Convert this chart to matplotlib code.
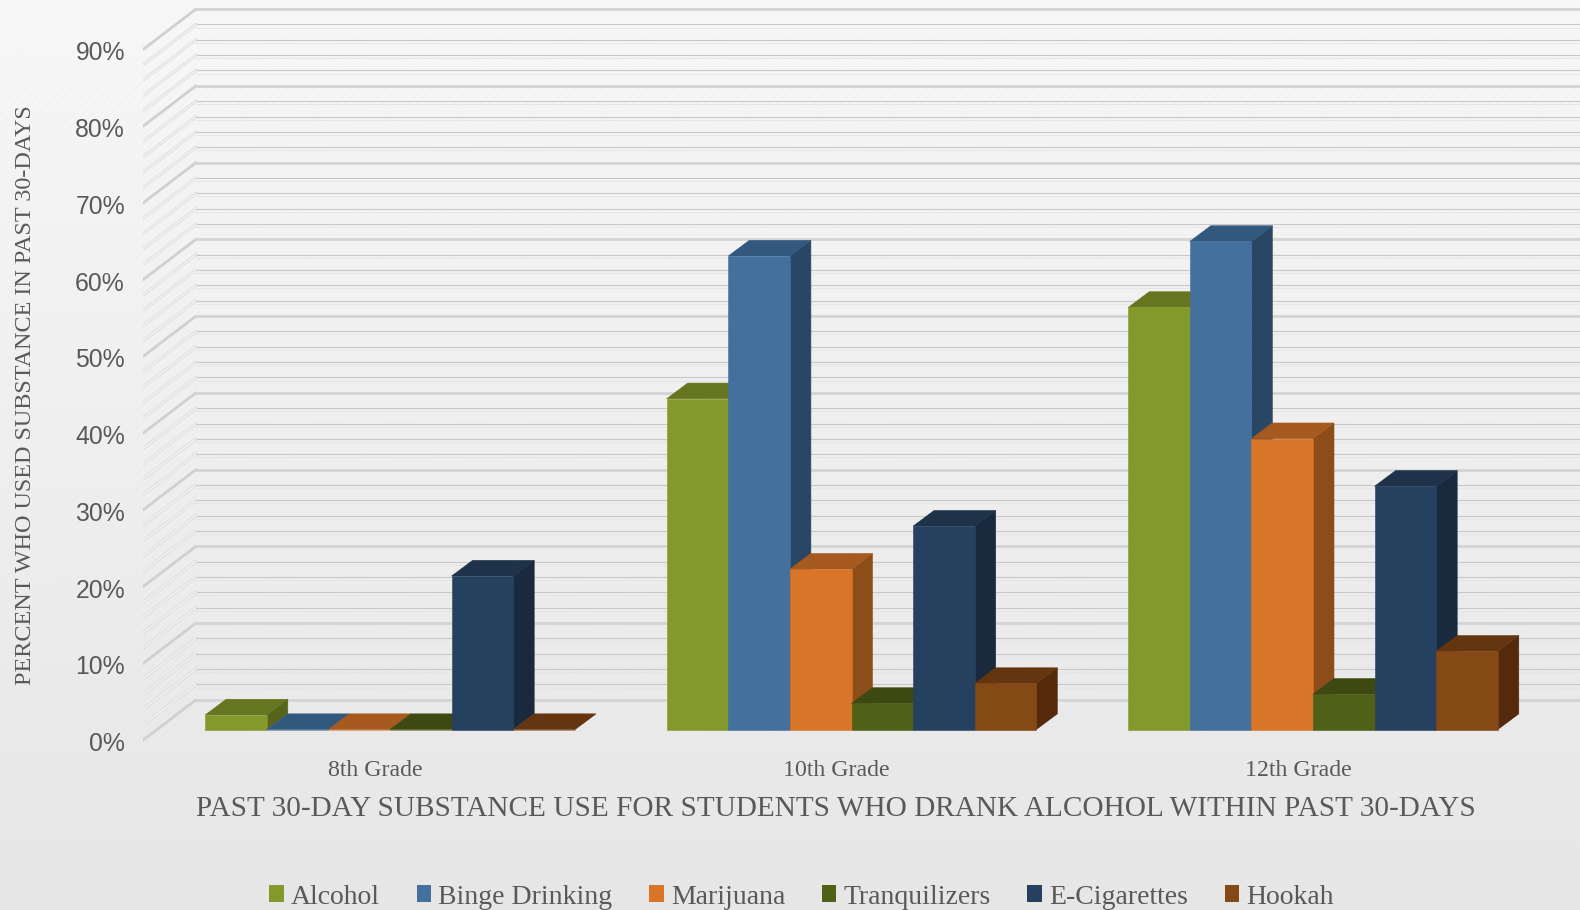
import numpy as np
import matplotlib
matplotlib.use("Agg")
import matplotlib.pyplot as plt
from matplotlib.patches import Polygon, Patch

grades = ["8th Grade", "10th Grade", "12th Grade"]
alcohol = [1.9, 43.1, 55.0]
binge = [0.0, 61.7, 63.6]
marijuana = [0.0, 20.9, 37.9]
tranquilizers = [0.0, 3.4, 4.6]
e_cigarettes = [20.0, 26.5, 31.7]
hookah = [0.0, 6.0, 10.2]
series_names = ["Alcohol", "Binge Drinking", "Marijuana", "Tranquilizers", "E-Cigarettes", "Hookah"]
series_values = [alcohol, binge, marijuana, tranquilizers, e_cigarettes, hookah]
front_colors = ["#84992B", "#44709E", "#D97528", "#4F6017", "#26415F", "#854915"]
top_colors = ["#66751F", "#33587E", "#A65A20", "#3D4910", "#1E3349", "#653510"]
side_colors = ["#56651B", "#294765", "#8D4D19", "#344010", "#192A3E", "#54290C"]
y_ticks = list(range(0, 100, 10))
minor_ticks = [v for v in range(0, 92, 2) if v % 10]

W, H = 1580, 910
PX_Y = 7.69            # pixels per percentage point
PX_X = 461.5           # pixels per category
LEFT, BOTTOM = 143, 741.7
CENTER0 = 390

fig = plt.figure(figsize=(W / 100, H / 100), dpi=100)

# Background: soft vertical gradient with a fine diagonal weave
bg = fig.add_axes([0, 0, 1, 1], zorder=0)
bg.axis("off")
yy, xx = np.mgrid[0:H, 0:W]
shade = 0.966 - 0.066 * (yy / H)
shade = shade + 0.003 * np.sin((xx + yy) * 2 * np.pi / 9)
bg.imshow(shade, cmap="gray", vmin=0, vmax=1, aspect="auto", interpolation="bilinear")

ax = fig.add_axes([LEFT / W, (H - BOTTOM) / H, (W - LEFT) / W, BOTTOM / H], zorder=1)
ax.patch.set_visible(False)
ax.set_xlim((LEFT - CENTER0) / PX_X, (W - CENTER0) / PX_X)
ax.set_ylim(0, BOTTOM / PX_Y)
for s in ax.spines.values():
    s.set_visible(False)

wall_dx = 53 / PX_X
wall_dy = 40.5 / PX_Y
x0 = ax.get_xlim()[0]
x1 = ax.get_xlim()[1]

# Side wall and back wall gridlines
for v in minor_ticks:
    ax.plot([x0, x0 + wall_dx], [v, v + wall_dy], color="#d6d6d6", lw=2.0, solid_capstyle="round", zorder=1)
    ax.plot([x0, x0 + wall_dx], [v, v + wall_dy], color="#f6f6f6", lw=1.0, solid_capstyle="round", zorder=1.1)
    ax.plot([x0 + wall_dx, x1], [v + wall_dy] * 2, color="#c8c8c8", lw=0.8, zorder=1)
    ax.plot([x0 + wall_dx, x1], [v + wall_dy - 0.4] * 2, color="#e6e6e6", lw=0.8, zorder=1)
for v in y_ticks:
    ax.plot([x0, x0 + wall_dx], [v, v + wall_dy], color="#d0d0d0", lw=2.0, solid_capstyle="round", zorder=1)
    ax.plot([x0 + wall_dx, x1], [v + wall_dy] * 2, color="#d4d4d4", lw=2.0, zorder=1)

# 3-D style columns
bar_w = 61.6 / PX_X
depth_x = 21 / PX_X
depth_y = 15.7 / PX_Y
base = (BOTTOM - 731.0) / PX_Y
n = len(series_names)
z = 2.0
for g in range(len(grades)):
    for i in range(n):
        h = series_values[i][g]
        left = g + (i - n / 2) * bar_w
        right = left + bar_w
        b, t = base, base + h
        kw = dict(lw=0.4, joinstyle="miter", zorder=z)
        ax.add_patch(Polygon([(right, b), (right + depth_x, b + depth_y),
                              (right + depth_x, t + depth_y), (right, t)],
                             fc=side_colors[i], ec=side_colors[i], **kw))
        ax.add_patch(Polygon([(left, t), (right, t), (right + depth_x, t + depth_y),
                              (left + depth_x, t + depth_y)],
                             fc=top_colors[i], ec=top_colors[i], **kw))
        ax.add_patch(Polygon([(left, b), (right, b), (right, t), (left, t)],
                             fc=front_colors[i], ec=front_colors[i], **kw))
        z += 0.01

# Axes text
ax.set_yticks([v - 1.5 / PX_Y for v in y_ticks])
ax.set_yticklabels([f"{v}%" for v in y_ticks], family="Liberation Sans", fontsize=17.8, color="#595959")
ax.tick_params(axis="y", length=0, pad=13)
ax.set_xticks([g - 15 / PX_X for g in range(len(grades))])
ax.set_xticklabels(grades, family="Liberation Serif", fontsize=17.2, color="#595959")
ax.tick_params(axis="x", length=0, pad=13)
ax.set_xlabel("PAST 30-DAY SUBSTANCE USE FOR STUDENTS WHO DRANK ALCOHOL WITHIN PAST 30-DAYS",
              family="Liberation Serif", fontsize=21.1, color="#595959")
ax.xaxis.set_label_coords((836 - LEFT) / (W - LEFT), (BOTTOM - 796) / BOTTOM)
ax.set_ylabel("PERCENT WHO USED SUBSTANCE IN PAST 30-DAYS",
              family="Liberation Serif", fontsize=17.4, color="#595959")
ax.yaxis.set_label_coords((36 - LEFT) / (W - LEFT), (BOTTOM - 395) / BOTTOM)

handles = [Patch(fc=c, ec="none") for c in front_colors]
fig.legend(handles, series_names, ncol=6, loc="center", bbox_to_anchor=(801.5 / W, 1 - 897 / H),
           frameon=False, prop={"family": "Liberation Serif", "size": 20}, labelcolor="#595959",
           handlelength=0.53, handleheight=0.53, handletextpad=0.25, columnspacing=1.32)

fig.savefig("out.png", dpi=100)
